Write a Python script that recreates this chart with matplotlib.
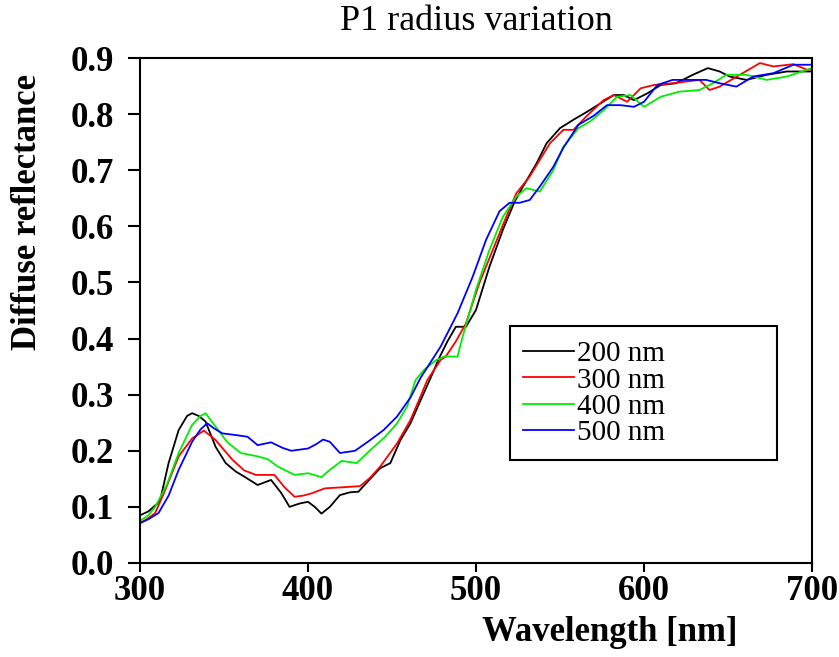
import numpy as np
import matplotlib.pyplot as plt
from matplotlib.patches import Rectangle

plt.rcParams['font.family'] = ['Liberation Serif', 'DejaVu Serif']

# 200 nm
wl_200 = [300, 305, 310, 312, 317, 323, 328, 331, 335, 339, 345, 351, 357, 362, 370, 378,
          384, 389, 395, 400, 404, 408, 413, 419, 425, 430, 437, 443, 449, 455, 461, 467,
          473, 478, 483, 488, 494, 500, 508, 516, 523, 528, 536, 542, 550, 558, 566, 574,
          582, 588, 594, 602, 610, 619, 629, 638, 645, 651, 661, 673, 685, 700]
r_200 = [0.085, 0.092, 0.105, 0.112, 0.178, 0.237, 0.262, 0.267, 0.262, 0.252, 0.207, 0.178,
         0.163, 0.154, 0.139, 0.148, 0.125, 0.100, 0.106, 0.109, 0.100, 0.088, 0.100, 0.121,
         0.126, 0.127, 0.150, 0.169, 0.178, 0.219, 0.249, 0.290, 0.330, 0.365, 0.395, 0.421,
         0.421, 0.451, 0.528, 0.594, 0.644, 0.671, 0.712, 0.748, 0.775, 0.790, 0.804, 0.819,
         0.834, 0.834, 0.825, 0.837, 0.852, 0.855, 0.870, 0.882, 0.876, 0.867, 0.861, 0.870,
         0.876, 0.876]

# 300 nm
wl_300 = [300, 305, 309, 315, 323, 331, 338, 345, 355, 362, 369, 380, 386, 392, 397, 402,
          410, 421, 431, 437, 443, 453, 461, 467, 471, 479, 482, 488, 494, 502, 510, 518,
          524, 532, 544, 552, 558, 566, 576, 582, 590, 598, 606, 617, 625, 633, 639, 645,
          657, 669, 677, 689, 697, 700]
r_300 = [0.071, 0.080, 0.089, 0.130, 0.190, 0.222, 0.236, 0.219, 0.184, 0.165, 0.157, 0.157,
         0.135, 0.118, 0.120, 0.124, 0.133, 0.135, 0.137, 0.152, 0.172, 0.213, 0.255, 0.297,
         0.326, 0.362, 0.368, 0.395, 0.427, 0.499, 0.558, 0.617, 0.659, 0.689, 0.748, 0.772,
         0.772, 0.797, 0.825, 0.834, 0.822, 0.846, 0.852, 0.855, 0.858, 0.861, 0.843, 0.849,
         0.870, 0.891, 0.885, 0.889, 0.879, 0.880]

# 400 nm
wl_400 = [300, 305, 309, 316, 323, 331, 336, 339, 345, 352, 360, 370, 376, 382, 392, 400,
          408, 413, 420, 429, 437, 446, 453, 459, 464, 469, 476, 481, 489, 492, 500, 508,
          516, 524, 530, 538, 546, 552, 561, 568, 576, 584, 592, 600, 610, 621, 633, 641,
          649, 661, 673, 685, 700]
r_400 = [0.075, 0.085, 0.100, 0.140, 0.196, 0.246, 0.262, 0.267, 0.243, 0.215, 0.196, 0.190,
         0.185, 0.172, 0.157, 0.160, 0.153, 0.166, 0.182, 0.178, 0.201, 0.225, 0.249, 0.279,
         0.326, 0.344, 0.361, 0.368, 0.368, 0.403, 0.487, 0.558, 0.617, 0.653, 0.668, 0.662,
         0.700, 0.742, 0.775, 0.787, 0.807, 0.831, 0.834, 0.813, 0.831, 0.840, 0.843, 0.855,
         0.870, 0.870, 0.861, 0.867, 0.882]

# 500 nm
wl_500 = [300, 305, 311, 317, 323, 331, 336, 340, 344, 349, 357, 364, 370, 378, 385, 390,
          400, 405, 409, 413, 419, 428, 437, 445, 453, 461, 467, 479, 489, 498, 506, 514,
          520, 526, 532, 538, 546, 552, 561, 570, 578, 586, 594, 600, 608, 617, 629, 637,
          645, 655, 665, 677, 689, 700]
r_500 = [0.071, 0.078, 0.089, 0.120, 0.166, 0.216, 0.238, 0.249, 0.240, 0.231, 0.228, 0.225,
         0.210, 0.215, 0.205, 0.200, 0.204, 0.212, 0.220, 0.216, 0.196, 0.200, 0.219, 0.237,
         0.261, 0.295, 0.330, 0.386, 0.445, 0.510, 0.576, 0.627, 0.642, 0.642, 0.647, 0.671,
         0.706, 0.740, 0.781, 0.797, 0.816, 0.816, 0.813, 0.822, 0.852, 0.861, 0.861, 0.861,
         0.855, 0.849, 0.867, 0.873, 0.888, 0.888]

labels = ['200 nm', '300 nm', '400 nm', '500 nm']
colors = ['black', '#ff0000', '#00ee00', '#0000ff']

fig = plt.figure(figsize=(8.39, 6.57), dpi=100)
ax = fig.add_axes([0.1669, 0.1431, 0.8009, 0.7686])

for wl, r, lab, c in zip([wl_200, wl_300, wl_400, wl_500], [r_200, r_300, r_400, r_500], labels, colors):
    ax.plot(wl, r, color=c, lw=1.3, label=lab)

ax.set_xlim(300, 700)
ax.set_ylim(0, 0.9)
ax.set_xticks([300, 400, 500, 600, 700])
ax.set_yticks(np.arange(0, 0.91, 0.1))
ax.set_yticklabels(['%.1f' % v for v in np.arange(0, 0.91, 0.1)])
ax.tick_params(axis='x', direction='out', length=6.5, width=1.5, labelsize=25, pad=2)
ax.tick_params(axis='y', direction='out', length=9, width=1.5, labelsize=25, pad=10)
for lbl in ax.get_xticklabels() + ax.get_yticklabels():
    lbl.set_fontweight('bold')
for s in ax.spines.values():
    s.set_linewidth(1.5)

ax.set_xlabel('Wavelength [nm]', fontsize=25, fontweight='bold')
ax.xaxis.set_label_coords(0.699, -0.105)
ax.set_ylabel('Diffuse reflectance', fontsize=25, fontweight='bold')
ax.yaxis.set_label_coords(-0.143, 0.696)
ax.set_title('P1 radius variation', fontsize=26, pad=20)

# legend box
ax.add_patch(Rectangle((0.551, 0.204), 0.397, 0.265, transform=ax.transAxes,
                       fill=False, edgecolor='black', lw=1.5, zorder=5))
ax.legend(loc='upper left', bbox_to_anchor=(0.5695, 0.44), frameon=False,
          fontsize=21, handlelength=1.75, handletextpad=0.1, labelspacing=0.0,
          borderaxespad=0, borderpad=0)

fig.savefig('out.png', dpi=100)
